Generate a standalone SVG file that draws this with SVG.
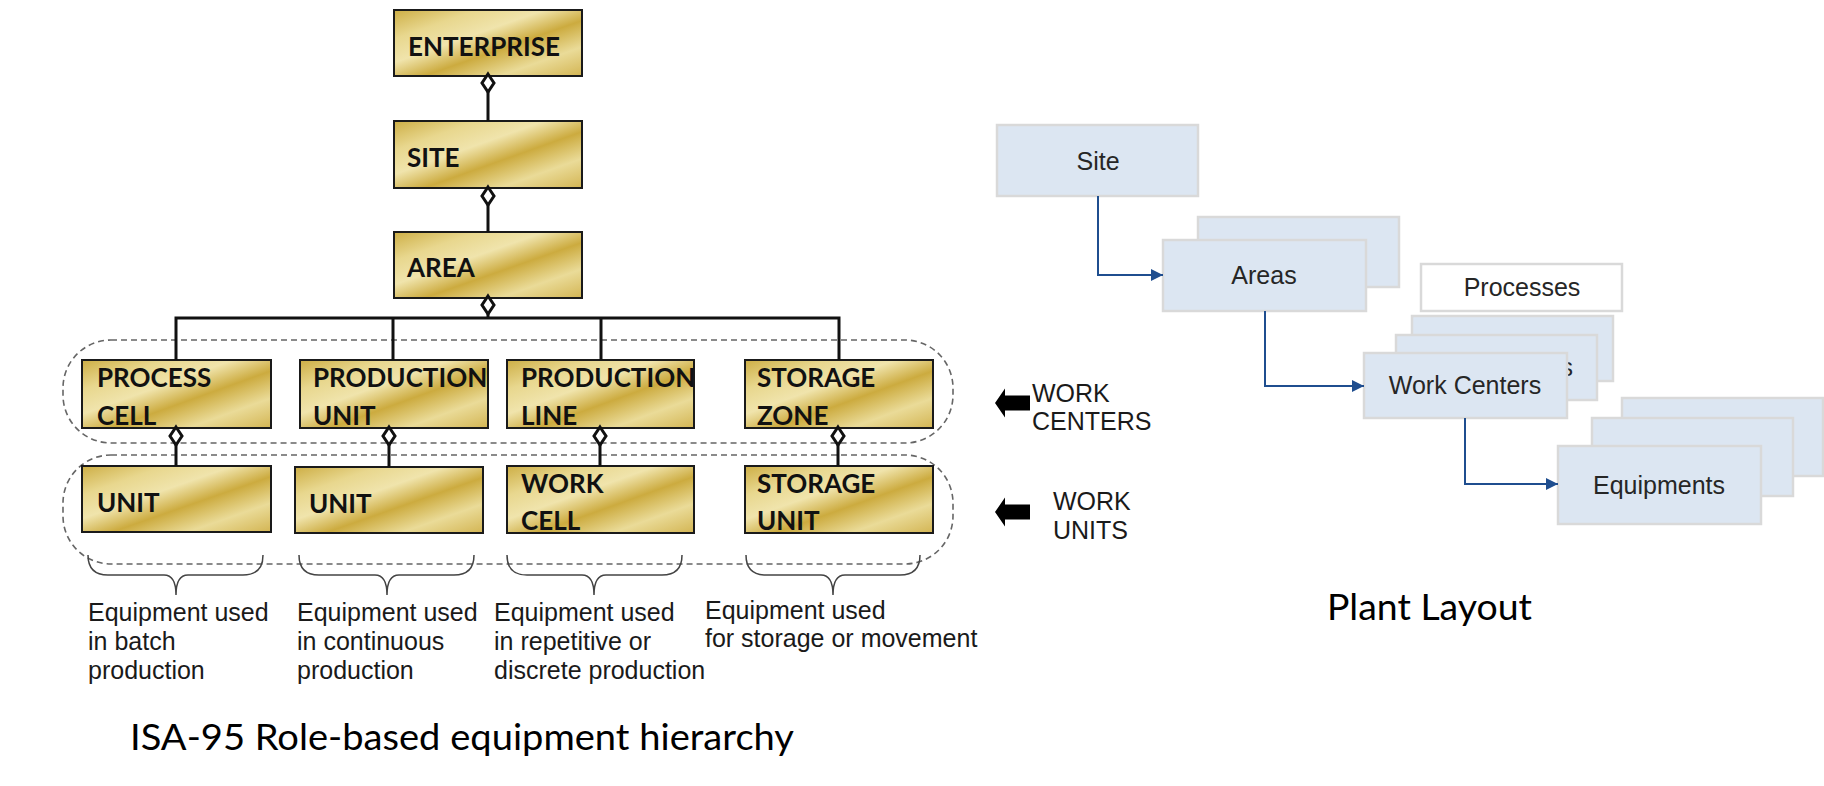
<svg xmlns="http://www.w3.org/2000/svg" width="1824" height="786" viewBox="0 0 1824 786">
<defs>
<linearGradient id="gold" x1="0" y1="0" x2="1" y2="1">
<stop offset="0" stop-color="#CDAE45"/>
<stop offset="0.22" stop-color="#E8D78E"/>
<stop offset="0.4" stop-color="#F0E4AC"/>
<stop offset="0.58" stop-color="#CCAB3F"/>
<stop offset="0.78" stop-color="#EADB98"/>
<stop offset="1" stop-color="#D3B553"/>
</linearGradient>
<marker id="ah" markerUnits="userSpaceOnUse" viewBox="0 0 12 12" refX="12" refY="6" markerWidth="12" markerHeight="12" orient="auto">
<path d="M0,0 L12,6 L0,12 Z" fill="#1F4E8F"/>
</marker>
<path id="dm" d="M0,-9 L6,0 L0,9 L-6,0 Z"/>
<style>
.gold{fill:url(#gold);stroke:#1a1a1a;stroke-width:2}
.gl{font-family:Lato,"Liberation Sans",Arial,sans-serif;font-weight:700;font-size:26px;fill:#111}
.conn{stroke:#111;stroke-width:3;fill:none}
.dia{fill:#fff;stroke:#111;stroke-width:3}
.dash{fill:none;stroke:#666;stroke-width:1.6;stroke-dasharray:6 4}
.brace{fill:none;stroke:#444;stroke-width:1.5}
.note{font-family:"Liberation Sans",Arial,sans-serif;font-size:25px;fill:#1a1a1a}
.bbox{fill:#DCE6F2;stroke:#D9D9D9;stroke-width:2.5}
.wbox{fill:#fff;stroke:#D9D9D9;stroke-width:2.5}
.bl{font-family:"Liberation Sans",Arial,sans-serif;font-size:25px;fill:#262626;text-anchor:middle}
.arr{stroke:#1F4E8F;stroke-width:2;fill:none;marker-end:url(#ah)}
.title{font-family:Lato,"Liberation Sans",Arial,sans-serif;font-size:37px;fill:#000}
</style>
</defs>
<rect width="1824" height="786" fill="#fff"/>

<g id="groupings">
<rect class="dash" x="63" y="340" width="890" height="103" rx="48" ry="48"/>
<rect class="dash" x="63" y="455" width="890" height="109" rx="48" ry="48"/>
</g>

<g id="braces">
<path class="brace" d="M88,555 Q88,575 108,575 L164,575 Q176,575 176,595 Q176,575 188,575 L243,575 Q263,575 263,555"/>
<path class="brace" d="M299,555 Q299,575 319,575 L375,575 Q387,575 387,595 Q387,575 399,575 L454,575 Q474,575 474,555"/>
<path class="brace" d="M507,555 Q507,575 527,575 L582,575 Q594,575 594,595 Q594,575 606,575 L662,575 Q682,575 682,555"/>
<path class="brace" d="M746,555 Q746,575 766,575 L821,575 Q833,575 833,595 Q833,575 845,575 L900,575 Q920,575 920,555"/>
</g>

<g id="n-enterprise"><rect class="gold" x="394" y="10" width="188" height="66"/><text class="gl" x="408" y="56">ENTERPRISE</text></g>
<g id="n-site"><rect class="gold" x="394" y="121" width="188" height="67"/><text class="gl" x="407" y="167">SITE</text></g>
<g id="n-area"><rect class="gold" x="394" y="232" width="188" height="66"/><text class="gl" x="407" y="277">AREA</text></g>

<g id="n-process-cell"><rect class="gold" x="82" y="360" width="189" height="68"/><text class="gl" x="97" y="387">PROCESS</text><text class="gl" x="97" y="425">CELL</text></g>
<g id="n-production-unit"><rect class="gold" x="300" y="360" width="188" height="68"/><text class="gl" x="313" y="387">PRODUCTION</text><text class="gl" x="313" y="425">UNIT</text></g>
<g id="n-production-line"><rect class="gold" x="507" y="360" width="187" height="68"/><text class="gl" x="521" y="387">PRODUCTION</text><text class="gl" x="521" y="425">LINE</text></g>
<g id="n-storage-zone"><rect class="gold" x="745" y="360" width="188" height="68"/><text class="gl" x="757" y="387">STORAGE</text><text class="gl" x="757" y="425">ZONE</text></g>

<g id="n-unit-1"><rect class="gold" x="82" y="466" width="189" height="66"/><text class="gl" x="97" y="512">UNIT</text></g>
<g id="n-unit-2"><rect class="gold" x="295" y="467" width="188" height="66"/><text class="gl" x="309" y="513">UNIT</text></g>
<g id="n-work-cell"><rect class="gold" x="507" y="466" width="187" height="67"/><text class="gl" x="521" y="493">WORK</text><text class="gl" x="521" y="530">CELL</text></g>
<g id="n-storage-unit"><rect class="gold" x="745" y="466" width="188" height="67"/><text class="gl" x="757" y="493">STORAGE</text><text class="gl" x="757" y="530">UNIT</text></g>

<g id="connectors">
<path class="conn" d="M488,91 V121"/>
<path class="conn" d="M488,205 V232"/>
<path class="conn" d="M488,314 V318"/>
<path class="conn" d="M176,360 V318 H839 V360"/>
<path class="conn" d="M393,318 V360"/>
<path class="conn" d="M601,318 V360"/>
<path class="conn" d="M176,445 V466"/>
<path class="conn" d="M389,445 V467"/>
<path class="conn" d="M600,445 V466"/>
<path class="conn" d="M838,445 V466"/>
<use href="#dm" class="dia" x="488" y="83"/>
<use href="#dm" class="dia" x="488" y="196"/>
<use href="#dm" class="dia" x="488" y="305"/>
<use href="#dm" class="dia" x="176" y="436"/>
<use href="#dm" class="dia" x="389" y="436"/>
<use href="#dm" class="dia" x="600" y="436"/>
<use href="#dm" class="dia" x="838" y="436"/>
</g>

<g id="notes">
<text class="note" x="88" y="621">Equipment used<tspan x="88" dy="29">in batch</tspan><tspan x="88" dy="29">production</tspan></text>
<text class="note" x="297" y="621">Equipment used<tspan x="297" dy="29">in continuous</tspan><tspan x="297" dy="29">production</tspan></text>
<text class="note" x="494" y="621">Equipment used<tspan x="494" dy="29">in repetitive or</tspan><tspan x="494" dy="29">discrete production</tspan></text>
<text class="note" x="705" y="619">Equipment used<tspan x="705" dy="28">for storage or movement</tspan></text>
</g>

<g id="level-labels">
<path d="M995,403 L1005,388.5 V395.5 H1030 V410.5 H1005 V417.5 Z" fill="#000"/>
<text class="note" x="1032" y="402">WORK<tspan x="1032" dy="28">CENTERS</tspan></text>
<path d="M995,512 L1005,497.5 V504.5 H1030 V519.5 H1005 V526.5 Z" fill="#000"/>
<text class="note" x="1053" y="510">WORK<tspan x="1053" dy="29">UNITS</tspan></text>
</g>

<g id="p-site"><rect class="bbox" x="997" y="125" width="201" height="71"/><text class="bl" x="1098" y="170">Site</text></g>
<g id="p-areas">
<rect class="bbox" x="1198" y="217" width="201" height="70"/>
<rect class="bbox" x="1163" y="240" width="203" height="71"/>
<text class="bl" x="1264" y="284">Areas</text>
</g>
<g id="p-processes"><rect class="wbox" x="1421" y="264" width="201" height="47"/><text class="bl" x="1522" y="296">Processes</text></g>
<g id="p-work-centers">
<rect class="bbox" x="1412" y="316" width="201" height="65"/>
<rect class="bbox" x="1396" y="335" width="201" height="65"/>
<text class="bl" x="1573" y="376" style="text-anchor:end">s</text>
<rect class="bbox" x="1364" y="353" width="203" height="65"/>
<text class="bl" x="1465" y="394">Work Centers</text>
</g>
<g id="p-equipments">
<rect class="bbox" x="1622" y="398" width="201" height="78"/>
<rect class="bbox" x="1592" y="418" width="201" height="78"/>
<rect class="bbox" x="1558" y="446" width="203" height="78"/>
<text class="bl" x="1659" y="494">Equipments</text>
</g>

<g id="plant-connectors">
<path class="arr" d="M1098,196 V275 H1163"/>
<path class="arr" d="M1265,311 V386 H1364"/>
<path class="arr" d="M1465,418 V484 H1558"/>
</g>

<g id="titles">
<text class="title" x="130" y="750" textLength="664" lengthAdjust="spacingAndGlyphs">ISA-95 Role-based equipment hierarchy</text>
<text class="title" x="1327" y="620" textLength="205" lengthAdjust="spacingAndGlyphs">Plant Layout</text>
</g>
</svg>
